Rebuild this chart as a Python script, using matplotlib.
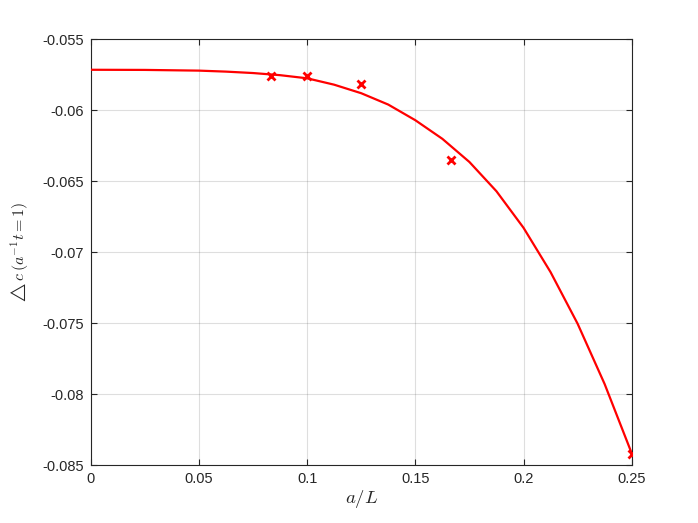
import matplotlib
matplotlib.use("Agg")
import matplotlib.pyplot as plt

# Fitted curve
curve_x = [0.0, 0.025, 0.05, 0.0625, 0.075, 0.0875, 0.1, 0.1125, 0.125, 0.1375,
           0.15, 0.1625, 0.175, 0.1875, 0.2, 0.2125, 0.225, 0.2375, 0.25]
curve_y = [-0.05715, -0.05716, -0.05721, -0.05728, -0.05738, -0.05753, -0.05775,
           -0.05820, -0.05880, -0.05960, -0.06070, -0.06201, -0.06364, -0.06570,
           -0.06827, -0.07139, -0.07502, -0.07927, -0.08414]

# Data points
pts_x = [1/12, 0.1, 0.125, 1/6, 0.25]
pts_y = [-0.05762, -0.05762, -0.05816, -0.06349, -0.08419]

xticks = [0, 0.05, 0.1, 0.15, 0.2, 0.25]
xticklabels = ["0", "0.05", "0.1", "0.15", "0.2", "0.25"]
yticks = [-0.085, -0.08, -0.075, -0.07, -0.065, -0.06, -0.055]
yticklabels = ["-0.085", "-0.08", "-0.075", "-0.07", "-0.065", "-0.06", "-0.055"]

plt.rcParams['font.family'] = ['Liberation Sans', 'DejaVu Sans']
plt.rcParams['mathtext.fontset'] = 'cm'

fig = plt.figure(figsize=(6.98, 5.23), dpi=100)
ax = fig.add_axes([0.13, 0.11, 0.775, 0.815])

axcol = (0.15, 0.15, 0.15)
ax.plot(curve_x, curve_y, color='red', lw=1.6, zorder=3, solid_joinstyle='round')
ax.plot(pts_x, pts_y, linestyle='none', marker='x', color='red', ms=5.5, mew=2, zorder=4)

ax.set_xlim(0, 0.25)
ax.set_ylim(-0.085, -0.055)
ax.set_xticks(xticks)
ax.set_xticklabels(xticklabels)
ax.set_yticks(yticks)
ax.set_yticklabels(yticklabels)

ax.grid(True, color=(0.15, 0.15, 0.15), alpha=0.15, lw=0.8)
ax.set_axisbelow(True)
ax.tick_params(direction='in', length=4.5, width=0.8, top=True, right=True,
               labelsize=10.5, colors=axcol, pad=5)
for s in ax.spines.values():
    s.set_color(axcol)
    s.set_linewidth(0.8)

ax.set_xlabel(r'$a/L$', fontsize=13.5, color=axcol, labelpad=1)
ax.set_ylabel(r'$\triangle c\,(a^{-1}t=1)$', fontsize=11.5, color=axcol, labelpad=8)

fig.savefig('out.png', dpi=100)
